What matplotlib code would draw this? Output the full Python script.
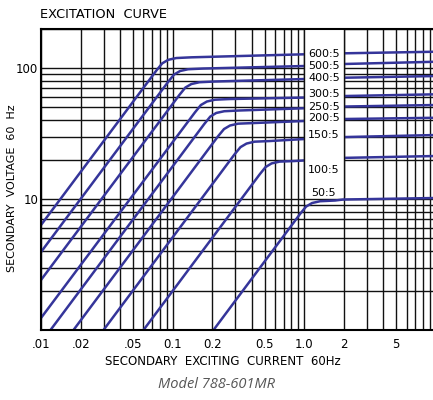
import numpy as np
import matplotlib.pyplot as plt
from matplotlib.patches import Rectangle
from matplotlib.ticker import LogLocator, NullFormatter

# excitation curves: secondary current (A) vs secondary voltage (V)
i_600 = [0.01, 0.0751, 0.0834, 0.0926, 0.1065, 0.1385, 1.0, 1.97, 10.0]
v_600 = [6.33, 95.4, 108.6, 115.5, 119.2, 120.7, 127.3, 129.5, 133.2]
i_500 = [0.01, 0.0924, 0.1026, 0.114, 0.1312, 0.1705, 1.0, 1.97, 10.0]
v_500 = [3.94, 78.3, 89.2, 94.9, 97.9, 99.1, 103.6, 107.3, 111.7]
i_400 = [0.01, 0.1126, 0.1251, 0.139, 0.1598, 0.2078, 1.0, 1.97, 10.0]
v_400 = [2.41, 62.3, 71.0, 75.5, 77.9, 78.9, 82.4, 84.3, 86.9]
i_300 = [0.01, 0.1477, 0.1641, 0.1822, 0.2096, 0.2725, 1.0, 1.97, 10.0]
v_300 = [1.235, 45.8, 52.2, 55.5, 57.3, 58.0, 59.5, 61.1, 63.0]
i_250 = [0.01181, 0.1741, 0.1934, 0.2148, 0.2471, 0.3213, 1.0, 1.97, 10.0]
v_250 = [1.0, 37.4, 42.6, 45.4, 46.8, 47.4, 49.3, 50.8, 52.2]
i_200 = [0.01766, 0.2213, 0.2458, 0.273, 0.3141, 0.4083, 1.0, 1.97, 10.0]
v_200 = [1.0, 30.1, 34.2, 36.4, 37.6, 38.0, 39.4, 40.8, 41.7]
i_150 = [0.02986, 0.2953, 0.3281, 0.3644, 0.4192, 0.545, 1.0, 1.97, 10.0]
v_150 = [1.0, 21.9, 24.9, 26.5, 27.4, 27.7, 28.7, 29.7, 30.8]
i_100 = [0.0601, 0.4583, 0.509, 0.5653, 0.6504, 0.8456, 1.0, 1.97, 10.0]
v_100 = [1.0, 15.4, 17.55, 18.7, 19.3, 19.5, 19.7, 20.6, 21.3]
i_50 = [0.2046, 0.931, 1.034, 1.148, 1.321, 1.717, 1.97, 10.0]
v_50 = [1.0, 7.70, 8.76, 9.32, 9.62, 9.74, 9.91, 10.18]

ratio_labels = ['600:5', '500:5', '400:5', '300:5', '250:5', '200:5', '150:5', '100:5', '50:5']
label_v = [129.0, 104.5, 83.4, 63.2, 50.5, 41.3, 30.8, 16.6, 11.2]
label_i = 1.414

xtick_vals = [0.01, 0.02, 0.05, 0.1, 0.2, 0.5, 1.0, 2, 5]
xtick_labels = ['.01', '.02', '.05', '0.1', '0.2', '0.5', '1.0', '2', '5']
ytick_vals = [10, 100]
ytick_labels = ['10', '100']

curves = [(i_600, v_600), (i_500, v_500), (i_400, v_400), (i_300, v_300),
          (i_250, v_250), (i_200, v_200), (i_150, v_150), (i_100, v_100),
          (i_50, v_50)]

blue = '#35359a'

fig = plt.figure(figsize=(4.33, 4.0), dpi=100)
ax = fig.add_axes([41/433, 70/400, 394.8/433, 301.4/400])

for cur, volt in curves:
    ax.plot(cur, volt, color=blue, lw=1.8, zorder=2, solid_capstyle='butt')

ax.set_xscale('log')
ax.set_yscale('log')
ax.set_xlim(0.01, 10)
ax.set_ylim(1, 200)

ax.xaxis.set_minor_locator(LogLocator(base=10, subs=np.arange(2, 10), numticks=20))
ax.yaxis.set_minor_locator(LogLocator(base=10, subs=np.arange(2, 10), numticks=20))
ax.set_xticks(xtick_vals, xtick_labels)
ax.set_yticks(ytick_vals, ytick_labels)
ax.xaxis.set_minor_formatter(NullFormatter())
ax.yaxis.set_minor_formatter(NullFormatter())
ax.tick_params(which='both', length=0, labelsize=8.5)
ax.tick_params(axis='x', pad=5.5)
ax.tick_params(axis='y', pad=2)
ax.grid(which='both', color='#111111', lw=1.0)
ax.set_axisbelow(True)

for sp in ax.spines.values():
    sp.set_linewidth(1.5)
    sp.set_zorder(5)

# blank column for the ratio labels
ax.add_patch(Rectangle((1.0, 10.4), 1.0, 200, facecolor='white', edgecolor='none', zorder=3))
ax.vlines([1.0, 2.0], 10.4, 200, color='#111111', lw=1.0, zorder=3.5)

for lab, v in zip(ratio_labels, label_v):
    ax.text(label_i, v, lab, ha='center', va='center', fontsize=8, zorder=6)

fig.text(40/433, 1 - 15/400, 'EXCITATION  CURVE', fontsize=9.3, ha='left', va='center')
fig.text(223/433, 1 - 361.5/400, 'SECONDARY  EXCITING  CURRENT  60Hz', fontsize=8.5,
         ha='center', va='center')
fig.text(12/433, 1 - 188/400, 'SECONDARY  VOLTAGE  60  Hz', fontsize=8, rotation=90,
         ha='center', va='center')
fig.text(216.7/433, 1 - 385/400, 'Model 788-601MR', fontsize=10.5, style='italic',
         family='Open Sans', color='#555555', ha='center', va='center')

fig.savefig('out.png', dpi=100)
